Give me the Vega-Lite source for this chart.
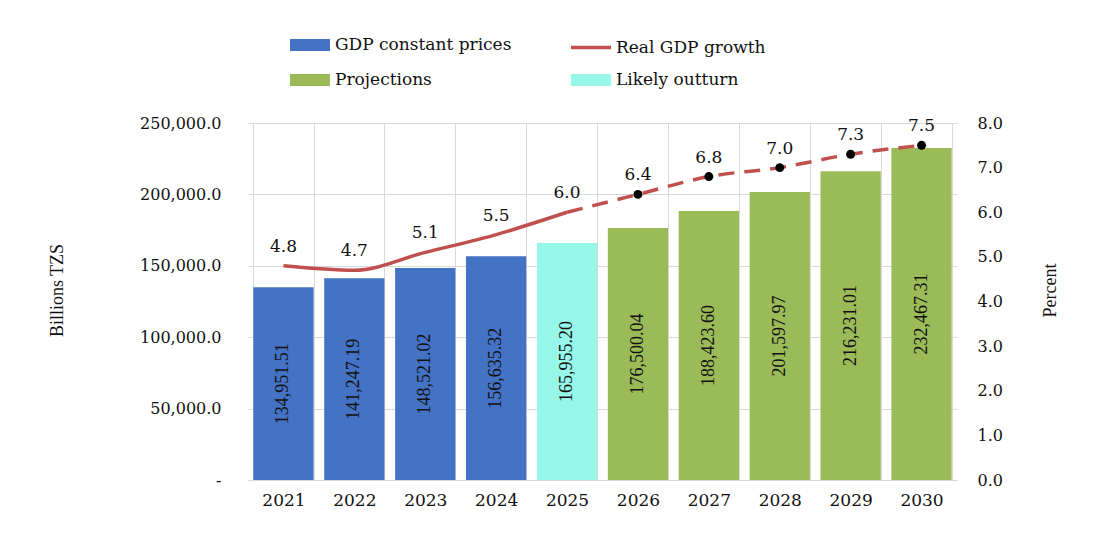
{
  "$schema": "https://vega.github.io/schema/vega-lite/v6.json",
  "autosize": "none",
  "width": 709,
  "height": 357,
  "padding": {"left": 248, "top": 123, "right": 137, "bottom": 60},
  "background": "white",
  "config": {
    "view": {"stroke": null},
    "axis": {"labelFont": "DejaVu Serif", "labelFontSize": 16, "labelColor": "#111", "titleFont": "Liberation Serif", "titleFontSize": 18, "titleFontWeight": "normal", "titleColor": "#111", "gridColor": "#d9d9d9", "gridWidth": 1, "domain": false, "ticks": false}
  },
  "data": {
    "values": [
      {"year": "2021", "gdp": 134951.51, "growth": 4.8, "category": "GDP constant prices"},
      {"year": "2022", "gdp": 141247.19, "growth": 4.7, "category": "GDP constant prices"},
      {"year": "2023", "gdp": 148521.02, "growth": 5.1, "category": "GDP constant prices"},
      {"year": "2024", "gdp": 156635.32, "growth": 5.5, "category": "GDP constant prices"},
      {"year": "2025", "gdp": 165955.20, "growth": 6.0, "category": "Likely outturn"},
      {"year": "2026", "gdp": 176500.04, "growth": 6.4, "category": "Projections"},
      {"year": "2027", "gdp": 188423.60, "growth": 6.8, "category": "Projections"},
      {"year": "2028", "gdp": 201597.97, "growth": 7.0, "category": "Projections"},
      {"year": "2029", "gdp": 216231.01, "growth": 7.3, "category": "Projections"},
      {"year": "2030", "gdp": 232467.31, "growth": 7.5, "category": "Projections"}
    ]
  },
  "encoding": {
    "x": {
      "field": "year", "type": "ordinal",
      "scale": {"paddingInner": 0.15, "paddingOuter": 0.075},
      "axis": {"title": null, "labelAngle": 0, "grid": true, "tickBand": "extent", "labelPadding": 12, "labelFontSize": 17}
    }
  },
  "layer": [
    {
      "encoding": {
        "y": {
          "field": "gdp", "type": "quantitative",
          "scale": {"domain": [0, 250000], "nice": false},
          "axis": {"title": "Billions TZS", "values": [0, 50000, 100000, 150000, 200000, 250000], "labelExpr": "datum.value == 0 ? '-   ' : format(datum.value, ',.1f')", "labelPadding": 27, "titleX": -191, "titleY": 167, "titleAngle": 270, "titleAlign": "center", "titleBaseline": "middle", "grid": true}
        }
      },
      "layer": [
        {
          "mark": {"type": "bar"},
          "encoding": {
            "color": {
              "field": "category", "type": "nominal",
              "scale": {"domain": ["GDP constant prices", "Real GDP growth", "Projections", "Likely outturn"], "range": ["#4472C4", "#C0504D", "#9BBB59", "#97F7E9"]},
              "legend": {
                "orient": "none", "legendX": 40, "legendY": -100, "columns": 2, "direction": "horizontal", "title": null,
                "symbolType": "M-1,-0.3H1V0.3H-1Z", "symbolSize": 1600, "symbolOpacity": 1,
                "labelFont": "DejaVu Serif", "labelFontSize": 17, "labelColor": "#111", "labelOffset": 3, "labelLimit": 400,
                "columnPadding": 52, "rowPadding": 0,
                "encode": {
                  "symbols": {
                    "update": {
                      "shape": {"signal": "datum.value === 'Real GDP growth' ? 'M-1,0H1' : 'M-1,-0.3H1V0.3H-1Z'"},
                      "stroke": {"signal": "datum.value === 'Real GDP growth' ? '#C0504D' : 'transparent'"},
                      "strokeWidth": {"value": 3.5}
                    }
                  }
                }
              }
            }
          }
        },
        {
          "transform": [{"calculate": "datum.gdp / 2", "as": "mid"}],
          "mark": {"type": "text", "angle": 270, "font": "Liberation Serif", "fontSize": 18, "color": "#111", "align": "center", "baseline": "middle"},
          "encoding": {
            "y": {"field": "mid", "type": "quantitative"},
            "text": {"field": "gdp", "type": "quantitative", "format": ",.2f"}
          }
        }
      ]
    },
    {
      "encoding": {
        "y": {
          "field": "growth", "type": "quantitative",
          "scale": {"domain": [0, 8], "nice": false},
          "axis": {"orient": "right", "title": "Percent", "values": [0, 1, 2, 3, 4, 5, 6, 7, 8], "format": ".1f", "labelPadding": 20, "titleX": 93, "titleY": 167, "titleAngle": 270, "titleAlign": "center", "titleBaseline": "middle", "grid": false}
        }
      },
      "layer": [
        {
          "transform": [{"filter": "datum.year <= '2025'"}],
          "mark": {"type": "line", "color": "#C0504D", "strokeWidth": 3.5, "interpolate": "monotone"}
        },
        {
          "transform": [{"filter": "datum.year >= '2025'"}],
          "mark": {"type": "line", "color": "#C0504D", "strokeWidth": 3.5, "strokeDash": [16, 10], "interpolate": "monotone"}
        },
        {
          "transform": [{"filter": "datum.year >= '2026'"}],
          "mark": {"type": "point", "filled": true, "color": "black", "size": 80, "opacity": 1}
        },
        {
          "mark": {"type": "text", "font": "DejaVu Serif", "fontSize": 17, "color": "#111", "baseline": "bottom", "dy": -10},
          "encoding": {
            "text": {"field": "growth", "type": "quantitative", "format": ".1f"}
          }
        }
      ]
    }
  ],
  "resolve": {"scale": {"y": "independent"}}
}
